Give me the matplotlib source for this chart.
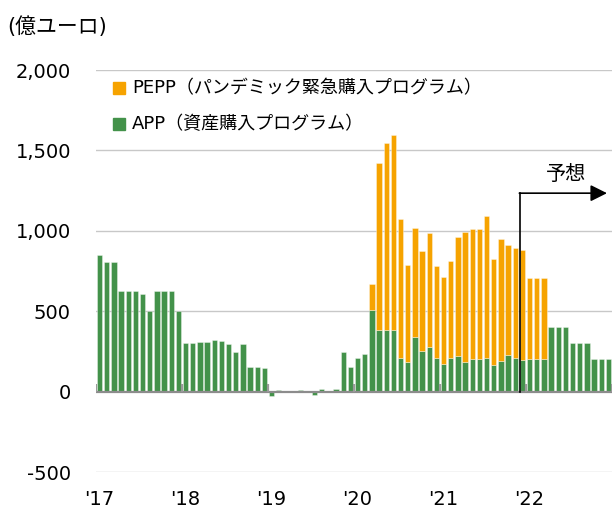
import matplotlib
matplotlib.use("Agg")
import matplotlib.pyplot as plt
import numpy as np

plt.rcParams['font.family'] = ['DejaVu Sans', 'Noto Sans CJK JP']

# Monthly purchases, Jan 2017 - Dec 2022 (億ユーロ)
app = [850, 807, 805, 625, 625, 625, 606, 502, 628, 625, 625, 504,
       302, 302, 311, 307, 320, 315, 299, 249, 299, 151, 153, 149,
       -28, 10, -5, -3, 8, -4, -22, 14, 3, 14, 245, 155,
       208, 234, 509, 380, 381, 386, 212, 187, 337, 250, 275, 206,
       173, 206, 223, 186, 200, 204, 210, 163, 192, 227, 208, 196,
       200, 200, 200, 402, 402, 402, 303, 303, 303, 201, 201, 201]
pepp = [0] * 38 + [161, 1040, 1164, 1209, 862, 601, 679, 625, 712, 578,
                   538, 605, 740, 809, 812, 808, 885, 660, 758, 685, 688, 687,
                   505, 505, 505] + [0] * 9
year_labels = ["'17", "'18", "'19", "'20", "'21", "'22"]
yticks = [-500, 0, 500, 1000, 1500, 2000]
legend_pepp = "PEPP（パンデミック緊急購入プログラム）"
legend_app = "APP（資産購入プログラム）"

green = '#43924A'
orange = '#F6A300'

fig = plt.figure(figsize=(6.13, 5.11), dpi=100)
ax = fig.add_axes([96/613, (511-472)/511, (612-96)/613, (472-70)/511])

x = np.arange(len(app))
app_a = np.array(app)
pepp_a = np.array(pepp)
ax.bar(x, app_a, width=0.76, color=green, edgecolor=(1, 1, 1, 0.5), linewidth=0.5, zorder=3)
mask = pepp_a > 0
ax.bar(x[mask], pepp_a[mask], bottom=app_a[mask], width=0.76, color=orange,
       edgecolor=(1, 1, 1, 0.5), linewidth=0.5, zorder=3)

ax.set_xlim(-0.5, len(app) - 0.5)
ax.set_ylim(-500, 2000)

for v in [-500, 500, 1000, 1500, 2000]:
    ax.axhline(v, color='#c8c8c8', lw=1.0, zorder=1)
ax.axhline(0, color='#8c8c8c', lw=1.6, zorder=4)
ax.vlines(np.arange(0, len(app) + 1, 12) - 0.5, 0, 45, color='#9a9a9a', lw=1.6, zorder=4)

for s in ax.spines.values():
    s.set_visible(False)
ax.set_yticks(yticks)
ax.set_yticklabels([f"{v:,}" for v in yticks])
ax.set_xticks(np.arange(0, len(app), 12))
ax.set_xticklabels(year_labels)
ax.tick_params(axis='y', length=0, pad=18, labelsize=14)
ax.tick_params(axis='x', length=0, pad=13, labelsize=14)

fig.text(7/613, 1 - 27/511, "(億ユーロ)", fontsize=15, va='center', ha='left')

# legend
for i, (lab, col) in enumerate([(legend_pepp, orange), (legend_app, green)]):
    yfig = 1 - (88 + 36 * i) / 511
    fig.patches.append(plt.Rectangle((113/613, yfig - 6/511), 12/613, 12/511,
                                     transform=fig.transFigure, color=col, figure=fig))
    fig.text(132/613, yfig, lab, fontsize=13, va='center', ha='left')

# forecast arrow
xf = 58.65
ax.plot([xf, xf], [0, 1234], color='black', lw=1.2, zorder=5)
ax.annotate('', xy=(70.8, 1234), xytext=(xf - 0.08, 1234),
            arrowprops=dict(arrowstyle='-|>,head_length=1.0,head_width=0.5',
                            color='black', lw=1.2, shrinkA=0, shrinkB=0), zorder=5)
ax.text(65.05, 1350, "予想", fontsize=14.5, ha='center', va='center')

fig.savefig('out.png', dpi=100)
